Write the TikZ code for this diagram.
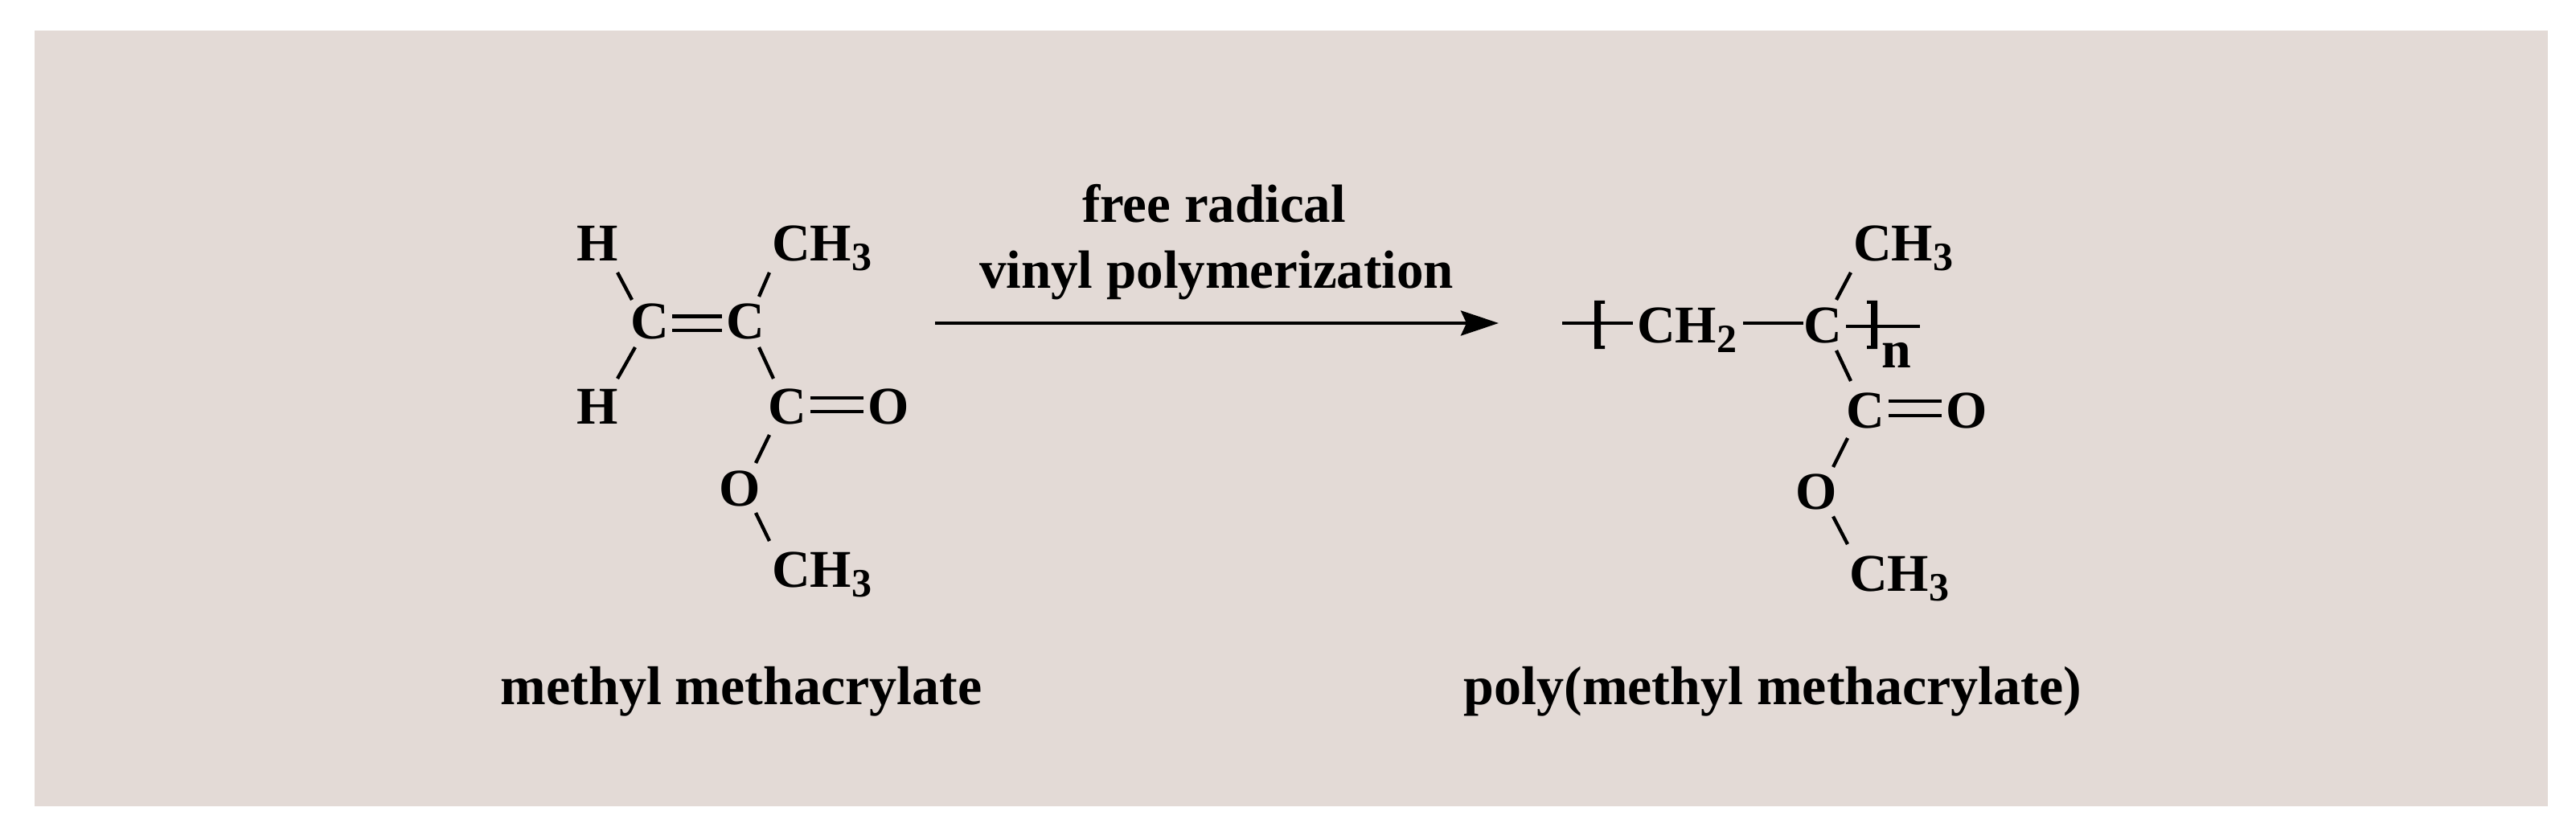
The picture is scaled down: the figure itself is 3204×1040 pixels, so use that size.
\documentclass[tikz,border=0pt]{standalone}
\usepackage{fontspec}
\setmainfont{Liberation Serif}
\usetikzlibrary{arrows.meta}
\newcommand{\lowsub}[1]{\raisebox{-12pt}{\fontsize{50}{50}\selectfont #1}}
\definecolor{panel}{HTML}{E3DAD6}
\tikzset{
  atom/.style={inner sep=0pt,outer sep=0pt,anchor=base,font=\fontsize{66}{70}\selectfont\bfseries},
  group/.style={atom,anchor=base west},
  caption/.style={atom,font=\fontsize{68}{72}\selectfont\bfseries},
  arrowlabel/.style={atom,font=\fontsize{67}{72}\selectfont\bfseries},
  bond/.style={line width=4.3pt,black},
  reaction/.style={line width=4pt,black,-{Stealth[length=47pt,width=31pt,inset=7pt]}},
  brack/.style={fill=black,draw=none}
}
\begin{document}
\begin{tikzpicture}[x=1pt,y=-1pt]
\useasboundingbox (0,0) rectangle (3204,1040);
\fill[panel] (43,38) rectangle (3169,1003);
% monomer
\node[atom] (H1) at (743,325) {H};
\node[atom] (C1) at (808,421) {C};
\node[atom] (C2) at (927,421) {C};
\node[group] (Me1) at (960,325) {CH\lowsub{3}};
\node[atom] (H2) at (743,527.5) {H};
\node[atom] (C3) at (979,527.5) {C};
\node[atom] (O1) at (1105,527.5) {O};
\node[atom] (O2) at (920,629) {O};
\node[group] (Me2) at (960,730) {CH\lowsub{3}};
\draw[bond] ([shift={(25,14)}]H1.base) -- ([shift={(-22,-48)}]C1.base);
\draw[bond] ([shift={(-18,11)}]C1.base) -- ([shift={(25,-56.5)}]H2.base);
\draw[bond] ([shift={(-3,14)}]Me1.base west) -- ([shift={(17,-52)}]C2.base);
\draw[bond] ([shift={(17,11)}]C2.base) -- ([shift={(-17,-56.5)}]C3.base);
\draw[bond] ([shift={(-22,13.5)}]C3.base) -- ([shift={(20,-53)}]O2.base);
\draw[bond] ([shift={(20,9)}]O2.base) -- ([shift={(-3,-57)}]Me2.base west);
\draw[bond] ([shift={(28,-27.5)}]C1.base) -- ([shift={(-29,-27.5)}]C2.base);
\draw[bond] ([shift={(28,-10)}]C1.base) -- ([shift={(-29,-10)}]C2.base);
\draw[bond] ([shift={(29,-32.5)}]C3.base) -- ([shift={(-31,-32.5)}]O1.base);
\draw[bond] ([shift={(29,-15.5)}]C3.base) -- ([shift={(-31,-15.5)}]O1.base);
\node[caption] (capL) at (922,876) {methyl methacrylate};
% reaction
\coordinate (arrS) at (1163,402);
\coordinate (arrE) at (1864,402);
\draw[reaction] (arrS) -- (arrE);
\node[arrowlabel] (lab1) at (1510,277) {free radical};
\node[arrowlabel] (lab2) at (1513,359) {vinyl polymerization};
% polymer
\node[group] (Me3) at (2305,325) {CH\lowsub{3}};
\node[group] (CH2) at (2036,426) {CH\lowsub{2}};
\node[atom] (Cp) at (2267,426) {C};
\node[group] (nn) at (2340,457) {n};
\node[atom] (C4) at (2320,532) {C};
\node[atom] (O3) at (2446,532) {O};
\node[atom] (O4) at (2259,633) {O};
\node[group] (Me4) at (2300,735) {CH\lowsub{3}};
\coordinate (endL) at (1943,402);
\coordinate (endR) at (2388,406);
\draw[bond] (endL) -- ([shift={(-5,-24)}]CH2.base west);
\draw[bond] ([shift={(132,-24)}]CH2.base west) -- ([shift={(-24,-24)}]Cp.base);
\draw[bond] ([shift={(29,-20)}]Cp.base) -- (endR);
\draw[bond] ([shift={(17,-53)}]Cp.base) -- ([shift={(-3,14)}]Me3.base west);
\draw[bond] ([shift={(17,10)}]Cp.base) -- ([shift={(-18,-58)}]C4.base);
\draw[bond] ([shift={(-22,13)}]C4.base) -- ([shift={(21,-52)}]O4.base);
\draw[bond] ([shift={(21,9.5)}]O4.base) -- ([shift={(-2,-58)}]Me4.base west);
\draw[bond] ([shift={(29,-33)}]C4.base) -- ([shift={(-31,-33)}]O3.base);
\draw[bond] ([shift={(29,-15)}]C4.base) -- ([shift={(-31,-15)}]O3.base);
\fill[brack] (1983,374) -- (1996,374) -- (1996,378) -- (1991,378) -- (1991,430) -- (1996,430) -- (1996,434) -- (1983,434) -- cycle;
\fill[brack] (2335,374) -- (2322,374) -- (2322,378) -- (2327,378) -- (2327,430) -- (2322,430) -- (2322,434) -- (2335,434) -- cycle;
\node[caption] (capR) at (2205,876) {poly(methyl methacrylate)};
\end{tikzpicture}
\end{document}
